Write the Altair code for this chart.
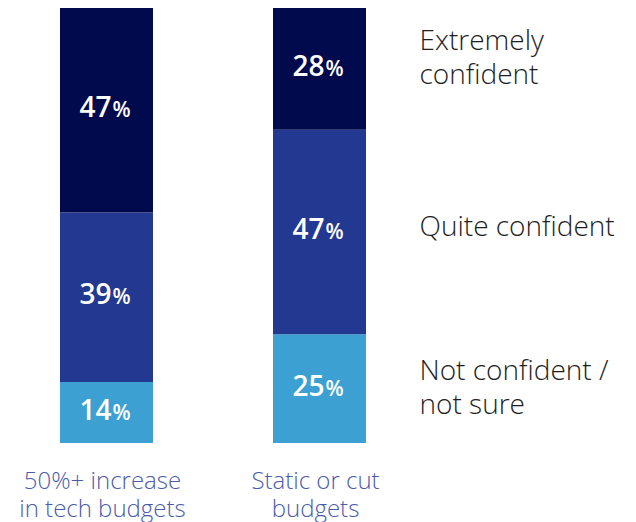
import altair as alt
import pandas as pd

groups = ["50%+ increase|in tech budgets", "Static or cut|budgets"]
levels = ["Not confident /\nnot sure", "Quite confident", "Extremely\nconfident"]
increase_vals = [14, 39, 47]
static_vals = [25, 47, 28]
colors = ["#3CA1D2", "#233891", "#020A4E"]

rows = []
for g, vals in zip(groups, [increase_vals, static_vals]):
    for i, (lev, v) in enumerate(zip(levels, vals)):
        rows.append({"group": g, "level": lev, "order": i, "value": v})
df = pd.DataFrame(rows)

FONT = "Open Sans"

xenc = alt.X(
    "group:N",
    sort=groups,
    scale=alt.Scale(domain=groups, paddingInner=0.5634, paddingOuter=0.2441),
    axis=alt.Axis(
        title=None,
        labelExpr="split(datum.label, '|')",
        labelAngle=0,
        domain=False,
        ticks=False,
        tickSize=0,
        labelFont=FONT,
        labelFontSize=24,
        labelFontWeight=300,
        labelColor="#4B5BAA",
        labelPadding=26,
        labelLineHeight=28,
        labelOffset=-4,
        labelBaseline="top",
        grid=False,
    ),
)

base = (
    alt.Chart(df)
    .transform_stack(
        stack="value", groupby=["group"], as_=["y0", "y1"], sort=[alt.SortField("order")]
    )
    .transform_calculate(mid="(datum.y0 + datum.y1) / 2")
)

yscale = alt.Scale(domain=[0, 100], nice=False, zero=True)

bars = base.mark_bar(width={"band": 1}).encode(
    x=xenc,
    y=alt.Y("y0:Q", scale=yscale, axis=None),
    y2="y1:Q",
    color=alt.Color(
        "level:N", scale=alt.Scale(domain=levels, range=colors), legend=None
    ),
)

nums = base.mark_text(
    align="right", baseline="alphabetic", dx=5, dy=7,
    font=FONT, fontSize=28, fontWeight=600, color="white",
).encode(
    x=alt.X("group:N", sort=groups),
    y=alt.Y("mid:Q", scale=yscale),
    text=alt.Text("value:Q", format="d"),
)

pct = base.mark_text(
    align="left", baseline="alphabetic", dx=6, dy=7,
    font=FONT, fontSize=21, fontWeight=600, color="white",
).encode(
    x=alt.X("group:N", sort=groups),
    y=alt.Y("mid:Q", scale=yscale),
    text=alt.value("%"),
)


def side_label(order, dy):
    return base.transform_filter(
        (alt.datum.group == groups[1]) & (alt.datum.order == order)
    ).mark_text(
        align="left", baseline="middle", dx=100, dy=dy,
        font=FONT, fontSize=28, fontWeight=300, color="#1E1E1E",
        lineBreak="\n", lineHeight=34,
    ).encode(
        x=alt.X("group:N", sort=groups),
        y=alt.Y("mid:Q", scale=yscale),
        text="level:N",
    )


chart = (
    alt.layer(bars, nums, pct, side_label(2, -27), side_label(1, -4), side_label(0, -17))
    .properties(
        width=410,
        height=435,
        autosize=alt.AutoSizeParams(type="none"),
        padding={"left": 0, "top": 0, "right": 210, "bottom": 79},
        background="white",
    )
    .configure_view(stroke=None)
)

chart.save("out.html", embed_options={"renderer": "svg", "actions": False})
